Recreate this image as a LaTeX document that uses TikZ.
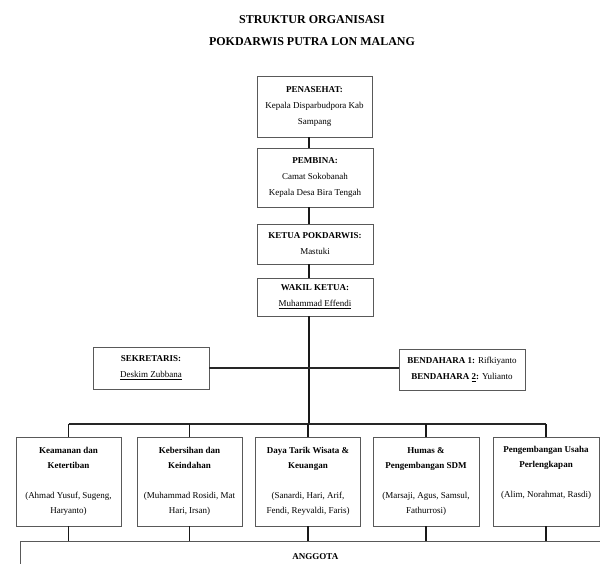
\documentclass[tikz,border=0pt]{standalone}
\usepackage{fontspec}
\setmainfont{Liberation Serif}
\begin{document}
\begin{tikzpicture}[x=1pt,y=-1pt,
  box/.style={draw=black!65, line width=0.8pt, align=center, inner sep=2pt, font=\fontsize{9}{16}\selectfont},
  lowbox/.style={box, minimum width=105, minimum height=89, font=\fontsize{9}{15}\selectfont},
  conn/.style={line width=1.1pt, draw=black!90},
  busline/.style={line width=2pt, draw=black!85}]
\useasboundingbox (0,0) rectangle (600,564);
\node[font=\fontsize{12}{22}\selectfont\bfseries, align=center] (title) at (312,31) {STRUKTUR ORGANISASI\\POKDARWIS PUTRA LON MALANG};

\node[box, minimum width=115, minimum height=61] (pen) at (314.5,106.5) {\textbf{PENASEHAT:}\\Kepala Disparbudpora Kab\\Sampang};
\node[box, minimum width=116, minimum height=59] (pem) at (315,177.5) {\textbf{PEMBINA:}\\Camat Sokobanah\\Kepala Desa Bira Tengah};
\node[box, minimum width=116, minimum height=40] (ket) at (315,244) {\textbf{KETUA POKDARWIS:}\\Mastuki};
\node[box, minimum width=116, minimum height=38] (wak) at (315,297) {\textbf{WAKIL KETUA:}\\\underline{Muhammad Effendi}};
\node[box, minimum width=116, minimum height=42] (sek) at (151,368) {\textbf{SEKRETARIS:}\\\underline{Deskim Zubbana}};
\node[box, minimum width=126, minimum height=41] (bend) at (462,369.5) {\textbf{BENDAHARA 1:} Rifkiyanto\\\textbf{BENDAHARA \underline{2}:} Yulianto};

\node[lowbox] (b1) at (68.5,481.5) {\textbf{Keamanan dan}\\\textbf{Ketertiban}\\[15pt](Ahmad Yusuf, Sugeng,\\Haryanto)};
\node[lowbox] (b2) at (189.5,481.5) {\textbf{Kebersihan dan}\\\textbf{Keindahan}\\[15pt](Muhammad Rosidi, Mat\\Hari, Irsan)};
\node[lowbox] (b3) at (308,481.5) {\textbf{Daya Tarik Wisata \&}\\\textbf{Keuangan}\\[15pt](Sanardi, Hari, Arif,\\Fendi, Reyvaldi, Faris)};
\node[lowbox, minimum width=106] (b4) at (426,481.5) {\textbf{Humas \&}\\\textbf{Pengembangan SDM}\\[15pt](Marsaji, Agus, Samsul,\\Fathurrosi)};
\node[lowbox, minimum width=106] (b5) at (546,481.5) {\textbf{Pengembangan Usaha}\\\textbf{Perlengkapan}\\[15pt](Alim, Norahmat, Rasdi)\\[4pt]\mbox{}};

\node[box, anchor=north west, minimum width=590, inner ysep=12pt, font=\fontsize{9}{11}\selectfont\bfseries, text height=6.3pt, text depth=0pt] (ang) at (20,541) {ANGGOTA};

\coordinate (tr) at (309,0);
\coordinate (bus) at (0,424);
\draw[conn] (pen.south -| tr) -- (pem.north -| tr);
\draw[conn] (pem.south -| tr) -- (ket.north -| tr);
\draw[conn] (ket.south -| tr) -- (wak.north -| tr);
\draw[conn] (wak.south -| tr) -- (tr |- bus);
\draw[busline] (sek.east) -- (bend.west |- sek.east);
\draw[busline] (b1.north |- bus) -- (b5.north |- bus);
\foreach \b in {b1,b2,b3,b4,b5}{
  \draw[conn] (\b.north |- bus) -- (\b.north);
  \draw[conn] (\b.south) -- (\b.south |- ang.north);
}
\end{tikzpicture}
\end{document}
